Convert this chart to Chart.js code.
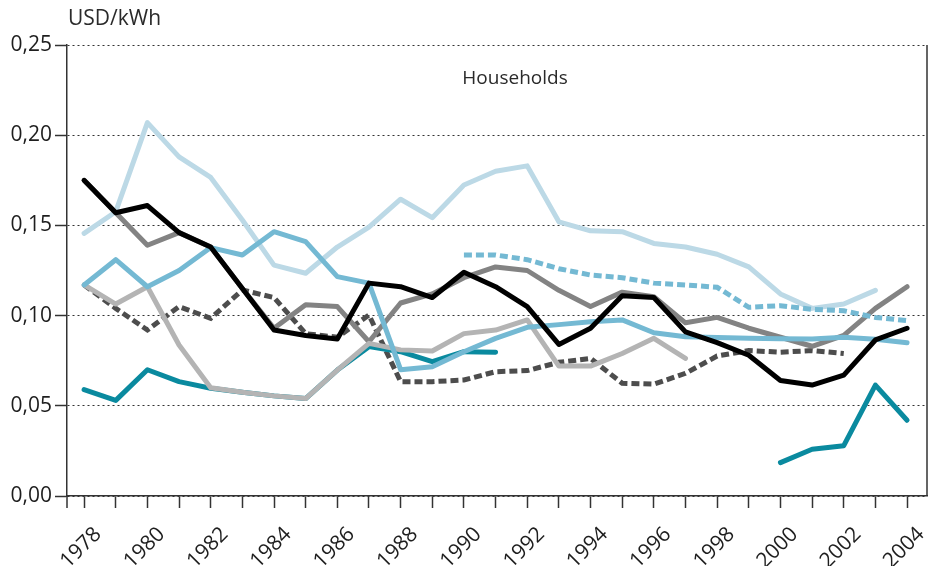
<!DOCTYPE html>
<html>
<head>
<meta charset="utf-8">
<script src="https://cdn.jsdelivr.net/npm/chart.js@4/dist/chart.umd.min.js"></script>
<style>
  html, body { margin: 0; padding: 0; background: #ffffff; }
  #wrap { width: 929px; height: 566px; position: relative; }
</style>
</head>
<body>
<div id="wrap"><canvas id="c" width="929" height="566"></canvas></div>
<script>
const years = [1978,1979,1980,1981,1982,1983,1984,1985,1986,1987,1988,1989,1990,1991,1992,1993,1994,1995,1996,1997,1998,1999,2000,2001,2002,2003,2004];
const yTicks = [0, 0.05, 0.10, 0.15, 0.20, 0.25];
const yUnit = 'USD/kWh';
const panelLabel = 'Households';

const blackSeries     = [0.175,0.157,0.161,0.146,0.138,0.115,0.092,0.089,0.087,0.118,0.116,0.110,0.124,0.116,0.105,0.084,0.093,0.111,0.110,0.091,0.085,0.078,0.064,0.0615,0.067,0.0865,0.093];
const darkGraySeries  = [0.175,0.157,0.139,0.146,0.138,0.115,0.093,0.106,0.105,0.0855,0.107,0.112,0.121,0.127,0.125,0.114,0.105,0.113,0.1105,0.096,0.099,0.093,0.088,0.083,0.089,0.104,0.116];
const paleBlueSeries  = [0.1456,0.1576,0.207,0.188,0.1766,0.153,0.128,0.1235,0.138,0.149,0.1645,0.1543,0.1724,0.180,0.183,0.152,0.147,0.1465,0.140,0.138,0.134,0.127,0.112,0.104,0.1064,0.114,null];
const midBlueSeries   = [0.117,0.131,0.116,0.125,0.1377,0.1336,0.1465,0.141,0.1216,0.118,0.070,0.0717,0.080,0.0874,0.0935,0.095,0.0966,0.0976,0.0905,0.0883,0.0878,0.0874,0.0872,0.087,0.088,0.0869,0.085];
const tealSeries      = [0.059,0.053,0.070,0.0634,0.0597,0.0575,0.0555,0.054,0.0698,0.0828,0.080,0.0745,0.080,0.0797,null,null,null,null,null,null,null,null,0.0185,0.0259,0.0279,0.0615,0.042];
const lightGraySeries = [0.117,0.1064,0.116,0.0837,0.060,0.0575,0.0555,0.054,0.0698,0.0846,0.081,0.0804,0.090,0.092,0.0976,0.072,0.072,0.079,0.0874,0.0763,null,null,null,null,null,null,null];
const darkDashSeries  = [0.117,0.104,0.092,0.105,0.0985,0.1142,0.110,0.090,0.088,0.1003,0.0634,0.0634,0.0643,0.0689,0.0695,0.0741,0.0763,0.0625,0.062,0.068,0.0776,0.0806,0.0797,0.0806,0.079,null,null];
const blueDashSeries  = [null,null,null,null,null,null,null,null,null,null,null,null,0.1336,0.1336,0.131,0.126,0.1225,0.121,0.118,0.117,0.1157,0.1046,0.1055,0.1035,0.1027,0.099,0.0972];

function pts(arr) { return years.map((yr, i) => ({ x: yr, y: arr[i] })); }

function solid(data, color, w) {
  return { data: pts(data), borderColor: color, backgroundColor: color, borderWidth: w,
    pointRadius: 0, pointHoverRadius: 0, tension: 0, spanGaps: false, fill: false,
    borderCapStyle: 'round', borderJoinStyle: 'round' };
}
function dashed(data, color, w) {
  const d = solid(data, color, w);
  d.borderDash = [8, 4];
  d.borderCapStyle = 'butt';
  d.borderJoinStyle = 'miter';
  return d;
}

const AXIS = '#333333';

const decor = {
  id: 'decor',
  afterDraw(chart) {
    const { ctx, chartArea: a } = chart;
    ctx.save();
    ctx.strokeStyle = AXIS;
    ctx.lineWidth = 1.5;
    ctx.beginPath();
    ctx.moveTo(a.right, a.top);
    ctx.lineTo(a.right, a.bottom);
    ctx.moveTo(a.left, a.bottom);
    ctx.lineTo(a.left, a.bottom + 12);
    ctx.stroke();
    ctx.fillStyle = '#2a2a2a';
    ctx.textBaseline = 'alphabetic';
    ctx.font = '21px "Open Sans"';
    ctx.textAlign = 'left';
    ctx.fillText(yUnit, a.left + 1, 25);
    ctx.font = '19px "Open Sans"';
    ctx.textAlign = 'center';
    ctx.fillText(panelLabel, 515, 84);
    ctx.restore();
  }
};

Chart.defaults.font.family = '"Open Sans", "Noto Sans", sans-serif';
Chart.defaults.color = '#1e1e1e';

new Chart(document.getElementById('c'), {
  type: 'line',
  data: {
    datasets: [
      solid(blackSeries, '#000000', 5),
      dashed(blueDashSeries, '#74b9d3', 5),
      solid(midBlueSeries, '#74b9d3', 5),
      solid(lightGraySeries, '#b4b4b4', 5),
      solid(tealSeries, '#0a8a9f', 5),
      solid(darkGraySeries, '#838383', 5),
      dashed(darkDashSeries, '#4d4d4d', 5),
      solid(paleBlueSeries, '#bcd9e6', 5)
    ]
  },
  options: {
    responsive: false,
    animation: false,
    events: [],
    layout: { padding: { top: 45, right: 2, left: 0, bottom: 0 } },
    plugins: { legend: { display: false }, tooltip: { enabled: false }, title: { display: false } },
    scales: {
      x: {
        type: 'linear',
        min: 1977.46,
        max: 2004.63,
        afterFit(s) { s.height = 70; s.paddingLeft = 0; s.paddingRight = 0; },
        border: { display: true, color: AXIS, width: 1.5 },
        grid: { drawOnChartArea: false, drawTicks: true, tickLength: 12, tickColor: AXIS, tickWidth: 1.5 },
        ticks: {
          stepSize: 1,
          includeBounds: false,
          autoSkip: false,
          maxRotation: 45,
          minRotation: 45,
          labelOffset: 14,
          padding: 14,
          font: { size: 21 },
          color: '#1e1e1e',
          callback(v) { return (Math.round(v) % 2 === 0) ? String(Math.round(v)) : ''; }
        }
      },
      y: {
        min: 0,
        max: 0.25,
        afterFit(s) { s.width = 67; },
        afterBuildTicks(s) { s.ticks = yTicks.map(v => ({ value: v })); },
        border: { display: true, color: AXIS, width: 1.5, dash: [2, 3] },
        grid: {
          color: AXIS, lineWidth: 1,
          drawTicks: true, tickLength: 12, tickColor: AXIS, tickWidth: 1.5, tickBorderDash: []
        },
        ticks: {
          padding: 3,
          font: { size: 21 },
          color: '#1e1e1e',
          callback(v) { return Number(v).toFixed(2).replace('.', ','); }
        }
      }
    }
  },
  plugins: [decor]
});
</script>
</body>
</html>
